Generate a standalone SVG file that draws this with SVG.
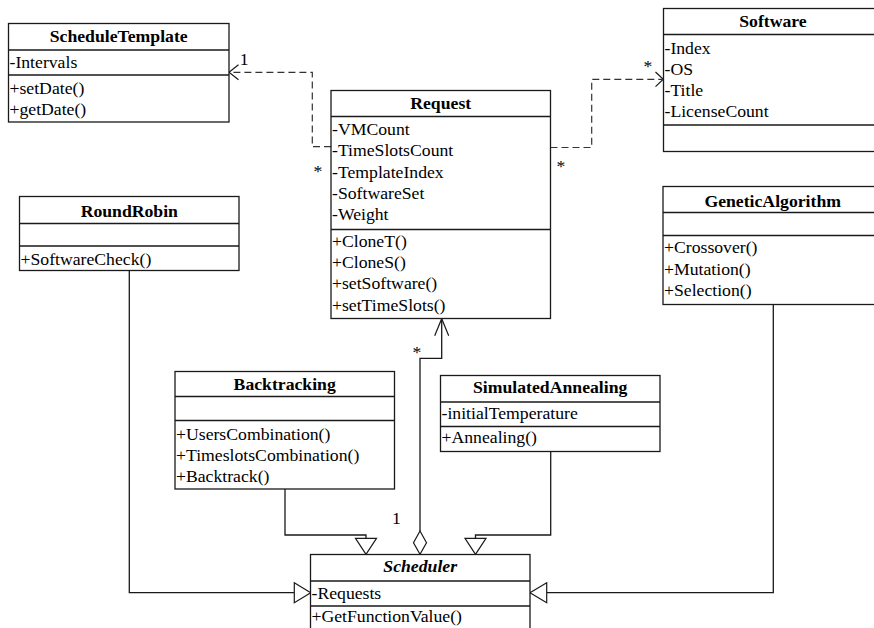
<svg xmlns="http://www.w3.org/2000/svg" width="874" height="628" viewBox="0 0 874 628">
<style>
.box{fill:#fff;stroke:#1a1a1a;stroke-width:1.3}
.ln{stroke:#1a1a1a;stroke-width:1.3;fill:none}
.dash{stroke:#333;stroke-width:1.2;fill:none;stroke-dasharray:7,4}
.head{fill:#fff;stroke:#1a1a1a;stroke-width:1.2}
.arr{stroke:#1a1a1a;stroke-width:1.2;fill:none}
text{font-family:"Liberation Serif","Times New Roman",serif;font-size:17.7px;fill:#000}
.t{font-weight:bold;text-anchor:middle}
.it{font-style:italic}
</style>
<rect width="874" height="628" fill="#fff"/>

<g id="connectors">
  <path class="dash" d="M331,146.7 H312.3 V72.3 H230"/>
  <path class="arr" d="M238.5,64.8 L229,72.3 L238.5,79.8"/>
  <path class="dash" d="M550.5,147.5 H591.7 V79.3 H662"/>
  <path class="arr" d="M655.5,72 L663.3,79.3 L655.5,86.6"/>
  <path class="ln" d="M420,531 V358.3 H441.7 V319.5"/>
  <path class="arr" d="M434.7,335.7 L441.7,318.7 L448.7,335.7"/>
  <path class="head" d="M420,531 L426.5,542.7 L420,554.3 L413.5,542.7 Z"/>
  <path class="ln" d="M129.3,270.7 V592.7 H294.3"/>
  <path class="head" d="M294.3,582.7 L310.7,592.7 L294.3,602.7 Z"/>
  <path class="ln" d="M773.3,304.5 V592.7 H546.7"/>
  <path class="head" d="M546.7,582.7 L530,592.7 L546.7,602.7 Z"/>
  <path class="ln" d="M285,489 V535 H366 V538.3"/>
  <path class="head" d="M355.5,538.3 L376.5,538.3 L366,554.3 Z"/>
  <path class="ln" d="M550.7,451.7 V535 H475.5 V538.3"/>
  <path class="head" d="M465,538.3 L486,538.3 L475.5,554.3 Z"/>
  <text x="239.7" y="65">1</text>
  <text x="313.6" y="177">*</text>
  <text x="556.5" y="172">*</text>
  <text x="643.5" y="71.5">*</text>
  <text x="412.5" y="358">*</text>
  <text x="392" y="524.3">1</text>
</g>

<g id="ScheduleTemplate">
  <rect class="box" x="8.5" y="23.5" width="220.5" height="98.5"/>
  <path class="ln" d="M8.5,50 H229 M8.5,75 H229"/>
  <text class="t" x="118.7" y="42">ScheduleTemplate</text>
  <text x="9.5" y="68">-Intervals</text>
  <text x="9.5" y="93.5">+setDate()</text>
  <text x="9.5" y="114.5">+getDate()</text>
</g>

<g id="Software">
  <rect class="box" x="663.5" y="8.5" width="219.5" height="143"/>
  <path class="ln" d="M663.5,34.5 H883 M663.5,125 H883"/>
  <text class="t" x="773" y="26.5">Software</text>
  <text x="664.5" y="53.5">-Index</text>
  <text x="664.5" y="74.8">-OS</text>
  <text x="664.5" y="96.1">-Title</text>
  <text x="664.5" y="117.4">-LicenseCount</text>
</g>

<g id="Request">
  <rect class="box" x="331" y="90.5" width="219.5" height="228"/>
  <path class="ln" d="M331,116.5 H550.5 M331,229.5 H550.5"/>
  <text class="t" x="440.7" y="109.3">Request</text>
  <text x="332" y="135">-VMCount</text>
  <text x="332" y="156.3">-TimeSlotsCount</text>
  <text x="332" y="177.6">-TemplateIndex</text>
  <text x="332" y="198.9">-SoftwareSet</text>
  <text x="332" y="220.2">-Weight</text>
  <text x="332" y="246.7">+CloneT()</text>
  <text x="332" y="268">+CloneS()</text>
  <text x="332" y="289.3">+setSoftware()</text>
  <text x="332" y="310.6">+setTimeSlots()</text>
</g>

<g id="RoundRobin">
  <rect class="box" x="19.5" y="196.5" width="219.5" height="74"/>
  <path class="ln" d="M19.5,223.5 H239 M19.5,246 H239"/>
  <text class="t" x="129.3" y="216.5">RoundRobin</text>
  <text x="20.5" y="265">+SoftwareCheck()</text>
</g>

<g id="GeneticAlgorithm">
  <rect class="box" x="663" y="186.5" width="219.5" height="118"/>
  <path class="ln" d="M663,212.5 H882.5 M663,235.5 H882.5"/>
  <text class="t" x="772.7" y="206.5">GeneticAlgorithm</text>
  <text x="664" y="253.3">+Crossover()</text>
  <text x="664" y="274.6">+Mutation()</text>
  <text x="664" y="295.9">+Selection()</text>
</g>

<g id="Backtracking">
  <rect class="box" x="175" y="371.5" width="219.5" height="117.5"/>
  <path class="ln" d="M175,396.5 H394.5 M175,420.5 H394.5"/>
  <text class="t" x="284.7" y="390">Backtracking</text>
  <text x="176" y="440">+UsersCombination()</text>
  <text x="176" y="461.3">+TimeslotsCombination()</text>
  <text x="176" y="482">+Backtrack()</text>
</g>

<g id="SimulatedAnnealing">
  <rect class="box" x="440.5" y="375.5" width="219.5" height="76"/>
  <path class="ln" d="M440.5,402 H660 M440.5,426.5 H660"/>
  <text class="t" x="550.2" y="393.3">SimulatedAnnealing</text>
  <text x="441.5" y="419.3">-initialTemperature</text>
  <text x="441.5" y="443.3">+Annealing()</text>
</g>

<g id="Scheduler">
  <rect class="box" x="310.5" y="554.5" width="219.5" height="90"/>
  <path class="ln" d="M310.5,581 H530 M310.5,606 H530"/>
  <text class="t it" x="420.2" y="571.7">Scheduler</text>
  <text x="311.5" y="599.3">-Requests</text>
  <text x="311.5" y="621.7">+GetFunctionValue()</text>
</g>
</svg>
